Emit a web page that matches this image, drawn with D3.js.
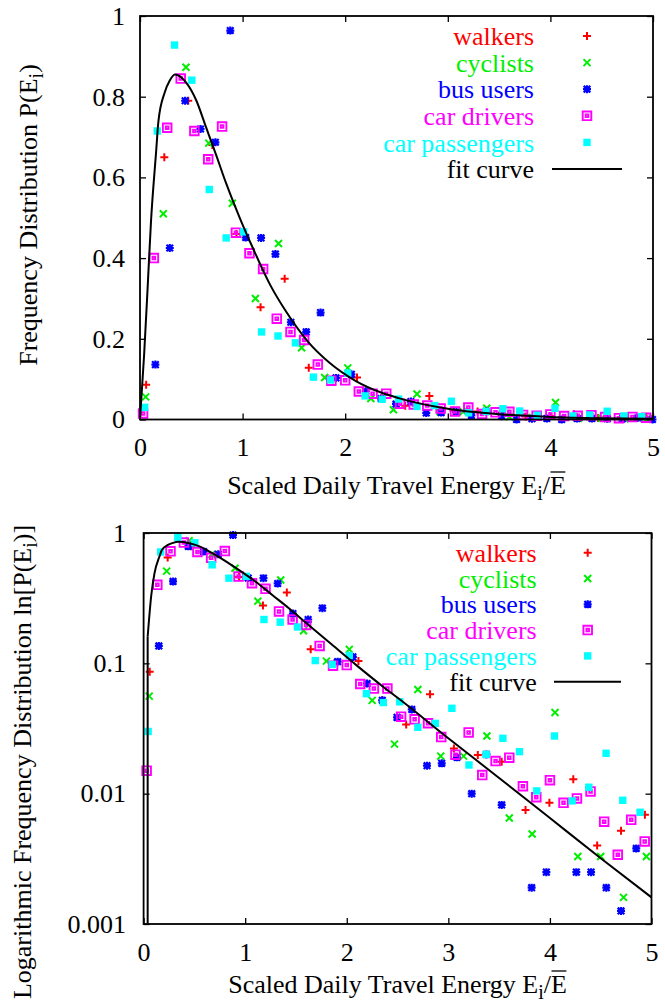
<!DOCTYPE html>
<html>
<head>
<meta charset="utf-8">
<script src="https://cdn.jsdelivr.net/npm/d3@7"></script>
<style>
  body { margin: 0; background: #fff; }
  text { font-family: "Liberation Serif", "Times New Roman", serif; }
</style>
</head>
<body>
<div id="chart"></div>
<script>
// values (x = scaled energy, p = frequency)
var walkersX = [0.06, 0.237, 0.47, 0.705, 0.94, 1.175, 1.41, 1.645, 1.88, 2.115, 2.35, 2.585, 2.82, 3.055, 3.29, 3.525, 3.76, 3.995, 4.23, 4.465, 4.70, 4.935];
var walkersP = [0.086, 0.65, 0.79, 0.68, 0.46, 0.278, 0.349, 0.128, 0.10, 0.104, 0.052, 0.034, 0.058, 0.0222, 0.0198, 0.0176, 0.0075, 0.0085, 0.0129, 0.0040, 0.0052, 0.0069];

var cyclistsX = [0.055, 0.227, 0.448, 0.67, 0.90, 1.125, 1.35, 1.575, 1.80, 2.025, 2.25, 2.47, 2.70, 2.925, 3.15, 3.38, 3.60, 3.825, 4.05, 4.275, 4.50, 4.725, 4.95];
var cyclistsP = [0.056, 0.51, 0.873, 0.685, 0.536, 0.30, 0.436, 0.178, 0.104, 0.128, 0.052, 0.024, 0.063, 0.0194, 0.0194, 0.0277, 0.0065, 0.0049, 0.042, 0.0033, 0.0033, 0.0016, 0.0033];

var busX = [0.15, 0.29, 0.44, 0.59, 0.735, 0.88, 1.03, 1.18, 1.32, 1.47, 1.62, 1.76, 1.91, 2.06, 2.20, 2.35, 2.495, 2.64, 2.79, 2.935, 3.085, 3.23, 3.375, 3.525, 3.67, 3.82, 3.965, 4.11, 4.26, 4.405, 4.555, 4.70, 4.85, 4.995];
var busP = [0.136, 0.425, 0.79, 0.72, 0.687, 0.964, 0.451, 0.45, 0.41, 0.241, 0.217, 0.265, 0.103, 0.112, 0.070, 0.052, 0.0385, 0.0443, 0.0164, 0.0171, 0.019, 0.010, 0.020, 0.0082, 0, 0.0019, 0.0025, 0, 0.0025, 0.0025, 0.0019, 0.00126, 0.0038, 0];

var driversX = [0.03, 0.135, 0.265, 0.397, 0.53, 0.665, 0.80, 0.935, 1.067, 1.20, 1.333, 1.467, 1.60, 1.733, 1.865, 2.0, 2.133, 2.267, 2.40, 2.535, 2.668, 2.80, 2.93, 3.07, 3.20, 3.334, 3.465, 3.60, 3.734, 3.866, 4.0, 4.134, 4.266, 4.40, 4.534, 4.668, 4.80, 4.933];
var driversP = [0.015, 0.40, 0.723, 0.845, 0.715, 0.645, 0.726, 0.463, 0.412, 0.373, 0.25, 0.217, 0.197, 0.136, 0.096, 0.097, 0.0694, 0.064, 0.064, 0.039, 0.0372, 0.0347, 0.0272, 0.0199, 0.0295, 0.0139, 0.0178, 0.0189, 0.0114, 0.0094, 0.0127, 0.0085, 0.0092, 0.0104, 0.0061, 0.0034, 0.0063, 0.0043];

var passengersX = [0.045, 0.168, 0.337, 0.505, 0.675, 0.84, 1.01, 1.185, 1.345, 1.515, 1.69, 1.857, 2.025, 2.194, 2.36, 2.521, 2.70, 2.872, 3.035, 3.203, 3.373, 3.537, 3.70, 3.871, 4.045, 4.219, 4.383, 4.553, 4.717, 4.888];
var passengersP = [0.03, 0.715, 0.928, 0.841, 0.57, 0.45, 0.465, 0.217, 0.207, 0.19, 0.105, 0.098, 0.115, 0.0585, 0.05, 0.0507, 0.0323, 0.0346, 0.0452, 0.0166, 0.020, 0.0266, 0.021, 0.0105, 0.0277, 0.0088, 0.0112, 0.0204, 0.0089, 0.0072];

// fit curve
var fitX = [0, 0.04, 0.075, 0.107, 0.156, 0.18, 0.24, 0.29, 0.34, 0.45, 0.55, 0.64, 0.74, 0.84, 0.98, 1.1, 1.27, 1.43, 1.63, 1.85, 2.1, 2.37, 2.52, 3.0, 3.5, 4.0, 4.5, 5.0];
var fitP = [0, 0.16, 0.33, 0.49, 0.66, 0.74, 0.81, 0.84, 0.855, 0.835, 0.79, 0.727, 0.657, 0.585, 0.495, 0.425, 0.333, 0.265, 0.195, 0.14, 0.096, 0.065, 0.053, 0.0266, 0.0132, 0.0065, 0.0032, 0.0016];

var seriesNames = ["walkers", "cyclists", "bus users", "car drivers", "car passengers"];
var xTicks = [0, 1, 2, 3, 4, 5];
var linTicks = [0, 0.2, 0.4, 0.6, 0.8, 1];
var logTicks = [0.001, 0.01, 0.1, 1];

var svgWidth = 665;
var svgHeight = 1004;
var fontSize = 26;

var svg = d3.select("#chart")
  .append("svg")
  .attr("width", svgWidth)
  .attr("height", svgHeight);

svg.append("rect").attr("width", svgWidth).attr("height", svgHeight).attr("fill", "#fff");

var colors = ["#ff0000", "#00ee00", "#0000ff", "#ff00ff", "#00ffff"];
// gnuplot style point shapes
var shapes = [
  { d: "M-4,0H4M0,-4V4", fill: false, sw: 2 },
  { d: "M-3.5,-3.5L3.5,3.5M-3.5,3.5L3.5,-3.5", fill: false, sw: 2 },
  { d: "M-4,0H4M0,-4V4M-3.3,-3.3L3.3,3.3M-3.3,3.3L3.3,-3.3", fill: false, sw: 2.2 },
  { d: "M-4.3,-4.3H4.3V4.3H-4.3ZM-1.3,-1.3H1.3V1.3H-1.3Z", fill: false, sw: 1.9 },
  { d: "M-3.7,-3.7H3.7V3.7H-3.7Z", fill: true, sw: 0 }
];
var xs = [walkersX, cyclistsX, busX, driversX, passengersX];
var ps = [walkersP, cyclistsP, busP, driversP, passengersP];

var series = seriesNames.map(function (name, i) {
  return {
    name: name,
    color: colors[i],
    shape: shapes[i],
    points: xs[i].map(function (x, j) { return { x: x, p: ps[i][j] }; })
  };
});
var fitPoints = fitX.map(function (x, j) { return { x: x, p: fitP[j] }; });

function paintMark(sel, s) {
  sel.attr("d", s.shape.d)
    .attr("fill", s.shape.fill ? s.color : "none")
    .attr("stroke", s.shape.fill ? "none" : s.color)
    .attr("stroke-width", s.shape.sw);
}

function drawPanel(box, log) {
  var g = svg.append("g");

  var xScale = d3.scaleLinear().domain([0, 5]).range([box.left, box.right]);
  var yScale = log
    ? d3.scaleLog().domain([0.001, 1]).range([box.bottom, box.top])
    : d3.scaleLinear().domain([0, 1]).range([box.bottom, box.top]);
  var yTicks = log ? logTicks : linTicks;

  function styleAxis(a) {
    a.attr("font-family", null).attr("font-size", fontSize);
    a.select(".domain").remove();
    a.selectAll(".tick line").attr("stroke", "#000").attr("stroke-width", 1.3);
    a.selectAll(".tick text").attr("fill", "#000");
  }

  g.append("g")
    .attr("transform", `translate(0, ${box.bottom})`)
    .call(d3.axisBottom(xScale).tickValues(xTicks).tickSize(-6).tickSizeOuter(0)
      .tickPadding(18.5).tickFormat(d3.format("d")))
    .call(styleAxis);
  g.append("g")
    .attr("transform", `translate(0, ${box.top})`)
    .call(d3.axisTop(xScale).tickValues(xTicks).tickSize(-6).tickSizeOuter(0).tickFormat(""))
    .call(styleAxis);
  g.append("g")
    .attr("transform", `translate(${box.left}, 0)`)
    .call(d3.axisLeft(yScale).tickValues(yTicks).tickSize(-6).tickSizeOuter(0)
      .tickPadding(box.yPad).tickFormat(function (d) { return String(d); }))
    .call(styleAxis);
  g.append("g")
    .attr("transform", `translate(${box.right}, 0)`)
    .call(d3.axisRight(yScale).tickValues(yTicks).tickSize(-6).tickSizeOuter(0).tickFormat(""))
    .call(styleAxis);

  // data points
  series.forEach(function (s) {
    g.append("g")
      .selectAll("path")
      .data(s.points.filter(function (d) { return log ? d.p > 0 : true; }))
      .enter()
      .append("path")
      .attr("transform", d => `translate(${xScale(d.x)}, ${yScale(d.p)})`)
      .call(paintMark, s);
  });

  // fit curve
  var curvePts = fitPoints.filter(function (d) { return log ? d.p > 0 : true; });
  var line = d3.line()
    .x(d => xScale(d.x))
    .y(d => yScale(d.p))
    .curve(d3.curveMonotoneX);
  if (log) {
    g.append("line")
      .attr("x1", xScale(curvePts[0].x)).attr("x2", xScale(curvePts[0].x))
      .attr("y1", box.bottom).attr("y2", yScale(curvePts[0].p))
      .attr("stroke", "#000").attr("stroke-width", 2);
  }
  g.append("path")
    .attr("d", line(curvePts))
    .attr("fill", "none")
    .attr("stroke", "#000")
    .attr("stroke-width", 2);

  // frame
  g.append("rect")
    .attr("x", box.left).attr("y", box.top)
    .attr("width", box.right - box.left).attr("height", box.bottom - box.top)
    .attr("fill", "none").attr("stroke", "#000").attr("stroke-width", 1.8);

  // legend
  var lg = box.legend;
  series.forEach(function (s, i) {
    var ly = lg.y0 + i * lg.dy;
    g.append("text")
      .attr("x", lg.textX).attr("y", ly).attr("dy", "0.35em")
      .attr("text-anchor", "end").attr("font-size", fontSize)
      .attr("fill", s.color)
      .text(s.name);
    g.append("path")
      .attr("transform", `translate(${lg.symX}, ${ly})`)
      .call(paintMark, s);
  });
  var fy = lg.y0 + 5 * lg.dy;
  g.append("text")
    .attr("x", lg.textX).attr("y", fy).attr("dy", "0.35em")
    .attr("text-anchor", "end").attr("font-size", fontSize).attr("fill", "#000")
    .text("fit curve");
  g.append("line")
    .attr("x1", lg.lineX1).attr("x2", lg.lineX2).attr("y1", fy).attr("y2", fy)
    .attr("stroke", "#000").attr("stroke-width", 2);

  // y axis title
  var yt = g.append("text")
    .attr("transform", `translate(${box.yTitleX}, ${box.yTitleY}) rotate(-90)`)
    .attr("text-anchor", "middle").attr("font-size", fontSize);
  yt.append("tspan").text(box.yTitle[0]);
  yt.append("tspan").attr("font-size", 20).attr("dy", 6).text("i");
  yt.append("tspan").attr("dy", -6).text(box.yTitle[1]);

  // x axis title, E_i / E-bar
  var cx = (box.left + box.right) / 2;
  var xt = g.append("text")
    .attr("x", cx).attr("y", box.xTitleY)
    .attr("text-anchor", "middle").attr("font-size", fontSize);
  xt.append("tspan").text("Scaled Daily Travel Energy E");
  xt.append("tspan").attr("font-size", 20).attr("dy", 6).text("i");
  xt.append("tspan").attr("dy", -6).text("/E");
  var node = xt.node();
  var ext = node.getExtentOfChar(node.getNumberOfChars() - 1);
  g.append("line")
    .attr("x1", ext.x + 0.5).attr("x2", ext.x + ext.width - 0.5)
    .attr("y1", box.xTitleY - 22).attr("y2", box.xTitleY - 22)
    .attr("stroke", "#000").attr("stroke-width", 1.3);
}

drawPanel({
  left: 140, right: 653, top: 16, bottom: 419.5, yPad: 15,
  legend: { textX: 534, symX: 587, lineX1: 552, lineX2: 622, y0: 36, dy: 26.6 },
  yTitle: ["Frequency Distribution P(E", ")"], yTitleX: 37, yTitleY: 215,
  xTitleY: 494
}, false);

drawPanel({
  left: 143.6, right: 651.5, top: 533, bottom: 924, yPad: 17.6,
  legend: { textX: 536.7, symX: 587.7, lineX1: 554, lineX2: 621, y0: 552.7, dy: 25.8 },
  yTitle: ["Logarithmic Frequency Distribution ln[P(E", ")]"], yTitleX: 31, yTitleY: 762,
  xTitleY: 993
}, true);
</script>
</body>
</html>
